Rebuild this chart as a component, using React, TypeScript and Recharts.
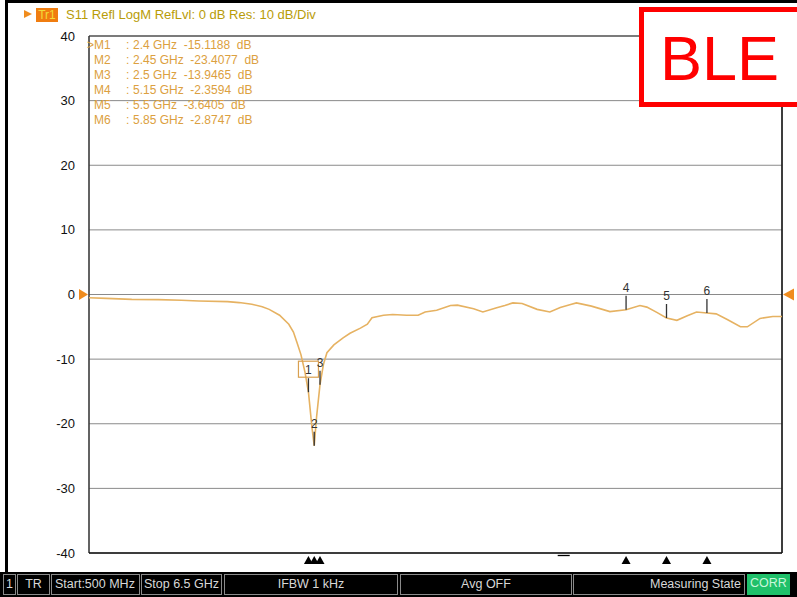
import React from 'react';
import { LineChart, Line, XAxis, YAxis, CartesianGrid, ReferenceLine, ReferenceDot } from 'recharts';

// Frequency (GHz) and S11 (dB)
const freqGHz = [
  0.5, 0.65, 0.87, 1.1, 1.3, 1.45, 1.7, 1.8, 1.91, 2.0, 2.06, 2.15, 2.23, 2.27, 2.3, 2.335, 2.37,
  2.4, 2.43, 2.45, 2.47, 2.5, 2.53, 2.56, 2.62, 2.7, 2.76, 2.85, 2.91, 2.95, 3.05, 3.13, 3.25,
  3.35, 3.41, 3.51, 3.63, 3.69, 3.83, 3.91, 4.03, 4.1, 4.17, 4.25, 4.38, 4.49, 4.58, 4.67, 4.72,
  4.85, 5.01, 5.15, 5.27, 5.33, 5.42, 5.5, 5.59, 5.68, 5.76, 5.85, 5.93, 6.03, 6.14, 6.2, 6.31,
  6.42, 6.5,
];
const s11dB = [
  -0.5, -0.6, -0.75, -0.8, -0.9, -1.0, -1.1, -1.25, -1.5, -1.9, -2.3, -3.2, -4.6, -5.8, -7.4, -9.3, -12.0,
  -15.12, -20.5, -23.41, -19.0, -13.95, -10.8, -9.0, -7.8, -6.7, -6.0, -5.2, -4.6, -3.6, -3.2, -3.1, -3.2,
  -3.2, -2.7, -2.45, -1.7, -1.65, -2.2, -2.7, -2.05, -1.7, -1.3, -1.4, -2.3, -2.7, -2.0, -1.55, -1.3,
  -1.8, -2.65, -2.36, -1.7, -1.95, -2.8, -3.64, -4.0, -3.3, -2.7, -2.87, -3.0, -3.9, -5.0, -5.0, -3.7,
  -3.4, -3.4,
];

const markerNames = ['1', '2', '3', '4', '5', '6'];
const markerFreqs = [2.4, 2.45, 2.5, 5.15, 5.5, 5.85];
const markerVals = [-15.1188, -23.4077, -13.9465, -2.3594, -3.6405, -2.8747];
const markerReadouts = [
  '2.4 GHz  -15.1188  dB',
  '2.45 GHz  -23.4077  dB',
  '2.5 GHz  -13.9465  dB',
  '5.15 GHz  -2.3594  dB',
  '5.5 GHz  -3.6405  dB',
  '5.85 GHz  -2.8747  dB',
];
const activeMarker = 0;

const yTicks = [40, 30, 20, 10, 0, -10, -20, -30, -40];
const xGridTicks = [0.5, 1.1, 1.7, 2.3, 2.9, 3.5, 4.1, 4.7, 5.3, 5.9, 6.5];
const minorMarkFreq = 4.61;

const headerText = 'S11 Refl LogM RefLvl: 0 dB Res: 10 dB/Div';
const statusLabels = ['1', 'TR', 'Start:500 MHz', 'Stop 6.5 GHz', 'IFBW 1 kHz', 'Avg OFF', 'Measuring State', 'CORR'];
const statusBoxes = [
  { l: 3, w: 13, align: 'center' },
  { l: 17, w: 33, align: 'center' },
  { l: 51, w: 89, align: 'left' },
  { l: 141, w: 81, align: 'center' },
  { l: 224, w: 174, align: 'center' },
  { l: 400, w: 172, align: 'center' },
  { l: 573, w: 172, align: 'right' },
  { l: 747, w: 43, align: 'center' },
];

const data = freqGHz.map((f, i) => ({ f, db: s11dB[i] }));

const FONT = '"Liberation Sans", Arial, sans-serif';
const TRACE = '#e6b262';

const YTick = (props: any) => {
  const { y, payload } = props;
  return (
    <text x={75} y={y} dy={4.5} textAnchor="end" fontSize={13} fill="#111" fontFamily={FONT}>
      {payload.value}
    </text>
  );
};

const MarkerFlag = (props: any) => {
  const { cx, cy, name, boxed } = props;
  if (cx == null || cy == null) return null;
  return (
    <g>
      <line x1={cx} y1={cy} x2={cx} y2={cy - 14} stroke="#333" strokeWidth={1.3} />
      {boxed && (
        <rect x={cx - 10} y={cy - 31} width={20} height={16} fill="none" stroke="#d9a050" strokeWidth={1.2} />
      )}
      <text x={cx} y={cy - 18} textAnchor="middle" fontSize={12} fill="#333" fontFamily={FONT}>
        {name}
      </text>
    </g>
  );
};

const BottomTri = (props: any) => {
  const { cx, cy } = props;
  if (cx == null || cy == null) return null;
  return <polygon points={`${cx},${cy + 3} ${cx - 4.5},${cy + 11} ${cx + 4.5},${cy + 11}`} fill="#000" />;
};

const MinorDash = (props: any) => {
  const { cx, cy } = props;
  if (cx == null || cy == null) return null;
  return <line x1={cx - 6} y1={cy + 2.5} x2={cx + 6} y2={cy + 2.5} stroke="#000" strokeWidth={1.3} />;
};

const RefArrowLeft = (props: any) => {
  const { cx, cy } = props;
  if (cx == null || cy == null) return null;
  return <polygon points={`${cx - 1},${cy} ${cx - 10},${cy - 5.5} ${cx - 10},${cy + 5.5}`} fill="#f08c1e" />;
};

const RefArrowRight = (props: any) => {
  const { cx, cy } = props;
  if (cx == null || cy == null) return null;
  return <polygon points={`${cx + 1},${cy} ${cx + 12},${cy - 6} ${cx + 12},${cy + 6}`} fill="#f08c1e" />;
};

export default function App() {
  const tableColor = '#dca040';
  return (
    <div style={{ position: 'absolute', left: 0, top: 0, width: 797, height: 597, background: '#fff', overflow: 'hidden', fontFamily: FONT }}>
      <LineChart width={797} height={597} data={data} margin={{ top: 36, right: 15, bottom: 0, left: 0 }}>
        <CartesianGrid stroke="#8a8a8a" strokeWidth={1} />
        <XAxis
          type="number"
          dataKey="f"
          domain={[0.5, 6.5]}
          ticks={xGridTicks}
          tick={false}
          tickLine={false}
          axisLine={false}
          height={44}
          allowDataOverflow
        />
        <YAxis
          type="number"
          domain={[-40, 40]}
          ticks={yTicks}
          tick={<YTick />}
          tickLine={false}
          axisLine={false}
          width={89}
          allowDataOverflow
        />
        <ReferenceLine x={0.5} stroke="#222" strokeWidth={1.2} />
        <ReferenceLine x={6.5} stroke="#111" strokeWidth={1.5} />
        <ReferenceLine y={40} stroke="#333" strokeWidth={1.2} />
        <ReferenceLine y={-40} stroke="#111" strokeWidth={1.5} />
        <Line type="linear" dataKey="db" stroke={TRACE} strokeWidth={1.6} dot={false} isAnimationActive={false} />
        {markerFreqs.map((f, i) => (
          <ReferenceDot
            key={'m' + i}
            x={f}
            y={markerVals[i]}
            r={0}
            shape={(p: any) => <MarkerFlag {...p} name={markerNames[i]} boxed={i === activeMarker} />}
          />
        ))}
        {markerFreqs.map((f, i) => (
          <ReferenceDot key={'t' + i} x={f} y={-40} r={0} shape={(p: any) => <BottomTri {...p} />} />
        ))}
        <ReferenceDot x={minorMarkFreq} y={-40} r={0} shape={(p: any) => <MinorDash {...p} />} />
        <ReferenceDot x={0.5} y={0} r={0} shape={(p: any) => <RefArrowLeft {...p} />} />
        <ReferenceDot x={6.5} y={0} r={0} shape={(p: any) => <RefArrowRight {...p} />} />
      </LineChart>

      {/* outer frame bars */}
      <div style={{ position: 'absolute', left: 5, top: 0, width: 792, height: 3, background: '#000' }} />
      <div style={{ position: 'absolute', left: 5, top: 0, width: 3, height: 575, background: '#000' }} />

      {/* header */}
      <div style={{ position: 'absolute', left: 24, top: 10, width: 0, height: 0, borderTop: '4px solid transparent', borderBottom: '4px solid transparent', borderLeft: '8px solid #f08c1e' }} />
      <div style={{ position: 'absolute', left: 36, top: 8, width: 22, height: 14, background: '#f07d10', color: '#f2dc3a', fontSize: 12, lineHeight: '14px', textAlign: 'center' }}>Tr1</div>
      <div style={{ position: 'absolute', left: 66, top: 7, fontSize: 13, lineHeight: '16px', color: '#b89c08', whiteSpace: 'pre' }}>{headerText}</div>

      {/* marker table */}
      {markerReadouts.map((t, i) => (
        <div key={i} style={{ position: 'absolute', left: 0, top: 38 + i * 15, width: 300, height: 15, fontSize: 12, lineHeight: '15px', color: tableColor, whiteSpace: 'pre' }}>
          {i === activeMarker && <span style={{ position: 'absolute', left: 87 }}>{'>'}</span>}
          <span style={{ position: 'absolute', left: 94 }}>{'M' + markerNames[i]}</span>
          <span style={{ position: 'absolute', left: 126 }}>:</span>
          <span style={{ position: 'absolute', left: 133 }}>{t}</span>
        </div>
      ))}

      {/* BLE box */}
      <div style={{ position: 'absolute', left: 639, top: 7, width: 170, height: 100, boxSizing: 'border-box', border: '5px solid #ff0000', background: '#fff' }} />
      <div style={{ position: 'absolute', left: 660, top: 22, fontSize: 63, lineHeight: '72px', color: '#ff0000', fontFamily: FONT }}>BLE</div>

      {/* status bar */}
      <div style={{ position: 'absolute', left: 0, top: 572, width: 797, height: 25, background: '#000' }} />
      {statusBoxes.map((b, i) => {
        const isCorr = i === statusBoxes.length - 1;
        return (
          <div
            key={i}
            style={{
              position: 'absolute',
              left: b.l,
              top: 574,
              width: b.w,
              height: 21,
              boxSizing: 'border-box',
              border: isCorr ? 'none' : '1px solid #8a8a8a',
              background: isCorr ? '#1fc06a' : '#000',
              color: isCorr ? '#c9f7da' : '#d8d8d8',
              fontSize: 12.5,
              lineHeight: '19px',
              textAlign: b.align as any,
              paddingLeft: b.align === 'left' ? 3 : 0,
              paddingRight: b.align === 'right' ? 3 : 0,
              whiteSpace: 'pre',
              overflow: 'hidden',
            }}
          >
            {statusLabels[i]}
          </div>
        );
      })}
    </div>
  );
}
